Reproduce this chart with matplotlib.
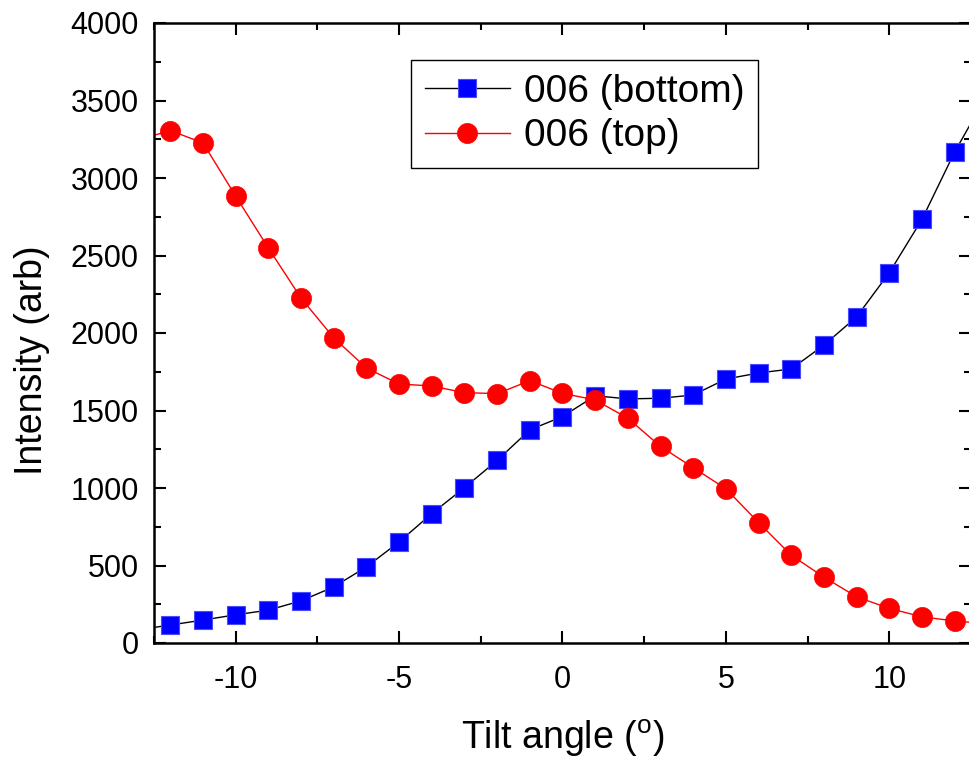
import numpy as np
import matplotlib
matplotlib.use('Agg')
import matplotlib.pyplot as plt
from matplotlib.ticker import MultipleLocator

plt.rcParams['font.family'] = ['Liberation Sans', 'DejaVu Sans']
plt.rcParams['mathtext.fontset'] = 'custom'
plt.rcParams['mathtext.rm'] = 'Liberation Sans'
plt.rcParams['axes.unicode_minus'] = False

# data (points at +-13 sit just outside the axes)
tilt = np.arange(-13, 14)
bottom = [85, 116, 148, 182, 212, 272, 362, 491, 652, 835, 1002, 1178, 1375,
          1461, 1595, 1575, 1579, 1600, 1703, 1742, 1768, 1922, 2104, 2389,
          2733, 3168, 3540]
top = [3245, 3306, 3226, 2883, 2548, 2225, 1969, 1774, 1671, 1658, 1615, 1609,
       1692, 1611, 1568, 1450, 1268, 1131, 995, 777, 566, 425, 298, 223, 169,
       142, 125]

fig = plt.figure(figsize=(9.7, 7.57), dpi=100)
ax = fig.add_axes([154 / 970, 114 / 757, 817 / 970, 620 / 757])

ax.plot(tilt, bottom, color='black', lw=1.0, marker='s', ms=13.5,
        mfc='blue', mec='#4a4aff', mew=0.8, label='006 (bottom)')
ax.plot(tilt, top, color='red', lw=1.0, marker='o', ms=14.5,
        mfc='red', mec='red', mew=0.5, label='006 (top)')

ax.set_xlim(-12.5, 12.5)
ax.set_ylim(0, 4000)
ax.xaxis.set_major_locator(MultipleLocator(5))
ax.xaxis.set_minor_locator(MultipleLocator(2.5))
ax.yaxis.set_major_locator(MultipleLocator(500))
ax.yaxis.set_minor_locator(MultipleLocator(250))

ax.tick_params(which='both', direction='in', top=True, right=True, width=1.5)
ax.tick_params(which='major', length=8.5, labelsize=22)
ax.tick_params(which='minor', length=5)
ax.tick_params(axis='x', which='major', pad=16)
ax.tick_params(axis='y', which='major', pad=11)
for s in ax.spines.values():
    s.set_linewidth(1.8)

ax.set_xlabel(r'Tilt angle ($\mathregular{^o}$)', fontsize=27, labelpad=16)
ax.set_ylabel('Intensity (arb)', fontsize=27)
ax.yaxis.set_label_coords(-0.127, 0.456)

leg = ax.legend(loc='upper left', bbox_to_anchor=(411 / 970, 1 - 60 / 757),
                bbox_transform=fig.transFigure, fontsize=28, frameon=True,
                fancybox=False, edgecolor='black', framealpha=1,
                handlelength=2.2, handletextpad=0.35, borderpad=0.35,
                labelspacing=0.22, borderaxespad=0)
leg.get_frame().set_linewidth(1.0)

fig.savefig('out.png', dpi=100)
